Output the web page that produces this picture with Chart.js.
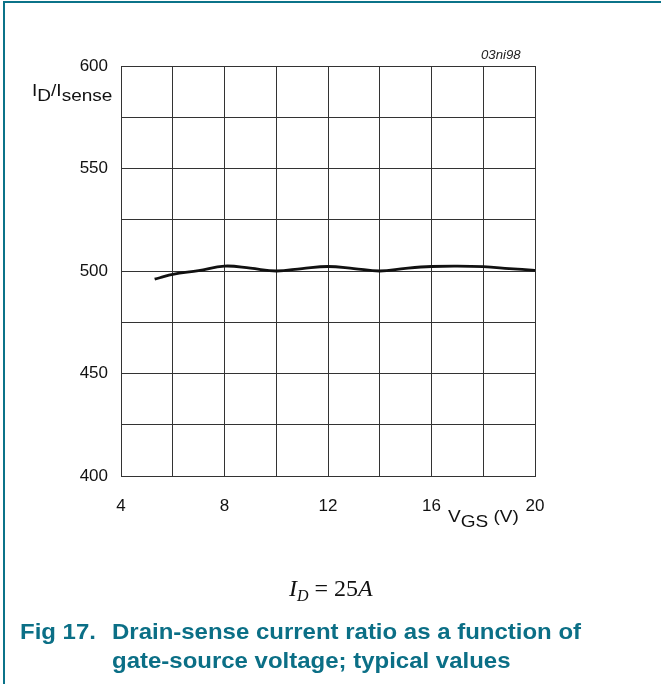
<!DOCTYPE html>
<html>
<head>
<meta charset="utf-8">
<script src="https://cdn.jsdelivr.net/npm/chart.js@4"></script>
<style>
  body { margin: 0; background: #fff; font-family: "Liberation Sans", Arial, sans-serif; }
  #wrap { position: relative; width: 661px; height: 684px; overflow: hidden; }
  #chart { position: absolute; left: 0; top: 0; }
  .frame-top { position: absolute; left: 3px; top: 1px; width: 658px; height: 2px; background: #0b7389; }
  .frame-left { position: absolute; left: 3px; top: 1px; width: 2px; height: 683px; background: #0b7389; }
  .lbl { position: absolute; color: #111; white-space: nowrap; transform-origin: left top; transform: scaleX(1.12); }
  .lbl sub { font-size: 17px; vertical-align: -5px; }
  .code { position: absolute; left: 481px; top: 48px; font-size: 12px; font-style: italic; color: #222; transform-origin: left top; transform: scaleX(1.1); }
  .formula { position: absolute; left: 289px; top: 575px; font-family: "Liberation Serif", "Times New Roman", serif; font-size: 24px; color: #111; white-space: nowrap; }
  .formula i sub { font-size: 16px; vertical-align: -5px; }
  .caption { position: absolute; color: #0b6f86; font-weight: bold; font-size: 22px; white-space: nowrap; transform-origin: left top; transform: scaleX(1.09); }
</style>
</head>
<body>
<div id="wrap">
  <canvas id="chart" width="661" height="684"></canvas>
  <div class="frame-top"></div>
  <div class="frame-left"></div>
  <div class="code">03ni98</div>
  <div class="lbl" style="left:32px; top:81px; font-size:17px;">I<sub>D</sub>/I<sub>sense</sub></div>
  <div class="lbl" style="left:448px; top:507px; font-size:17px;">V<sub>GS</sub> (V)</div>
  <div class="formula"><i>I<sub>D</sub></i> = 25<i>A</i></div>
  <div class="caption" style="left:20px; top:619px;">Fig 17.</div>
  <div class="caption" style="left:112px; top:619px;">Drain-sense current ratio as a function of</div>
  <div class="caption" style="left:112px; top:648px;">gate-source voltage; typical values</div>
</div>
<script>
// V_GS (V) et rapport I_D/I_sense
const vgs = [5.3, 5.5, 6, 7, 8, 9, 10, 11, 12, 13, 14, 15, 16, 17, 18, 19, 20];
const ratio = [496, 496.7, 498.4, 500.2, 502.4, 501.4, 500, 501.2, 502.2, 501.2, 500, 501.3, 502.2, 502.4, 502.1, 501.2, 500.3];

const xTicks = [4, 8, 12, 16, 20];
const yTicks = [400, 450, 500, 550, 600];

const points = vgs.map((v, i) => ({ x: v, y: ratio[i] }));

const ctx = document.getElementById("chart").getContext("2d");

new Chart(ctx, {
  type: "line",
  data: {
    datasets: [
      {
        data: points,
        borderColor: "#111",
        borderWidth: 2.8,
        pointRadius: 0,
        tension: 0.4,
        fill: false,
      },
    ],
  },
  options: {
    responsive: false,
    animation: false,
    layout: { padding: { top: 66, right: 126, bottom: 168, left: 0 } },
    plugins: { legend: { display: false }, tooltip: { enabled: false } },
    scales: {
      x: {
        type: "linear",
        min: 4,
        max: 20,
        afterBuildTicks: (scale) => {
          const t = [];
          for (let v = 4; v <= 20; v += 2) t.push({ value: v });
          scale.ticks = t;
        },
        afterFit: (scale) => { scale.height = 40; },
        grid: { color: "#333", lineWidth: 1, drawTicks: false },
        border: { color: "#333", width: 1 },
        ticks: {
          padding: 20,
          color: "#111",
          font: { family: "Liberation Sans", size: 17 },
          autoSkip: false,
          maxRotation: 0,
          callback: (v) => (xTicks.includes(v) ? String(v) : ""),
        },
      },
      y: {
        min: 400,
        max: 600,
        afterBuildTicks: (scale) => {
          const t = [];
          for (let v = 400; v <= 600; v += 25) t.push({ value: v });
          scale.ticks = t;
        },
        afterFit: (scale) => { scale.width = 121; },
        grid: { color: "#333", lineWidth: 1, drawTicks: false },
        border: { color: "#333", width: 1 },
        ticks: {
          padding: 13,
          color: "#111",
          font: { family: "Liberation Sans", size: 17 },
          autoSkip: false,
          callback: (v) => (yTicks.includes(v) ? String(v) : ""),
        },
      },
    },
  },
});
</script>
</body>
</html>
